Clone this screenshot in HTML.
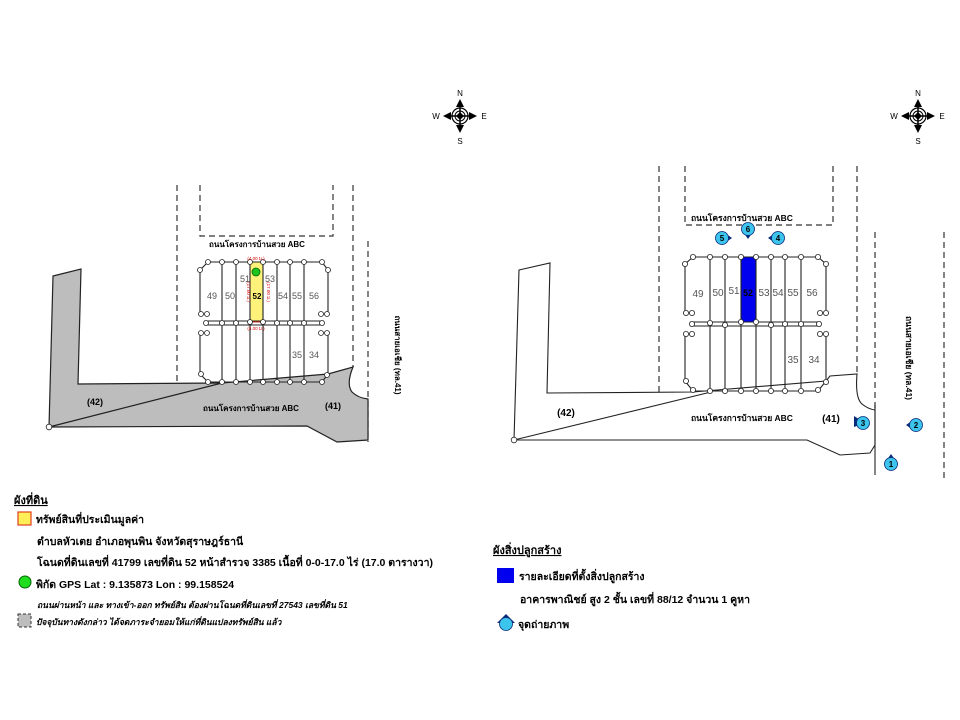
<!DOCTYPE html>
<html><head><meta charset="utf-8"><style>
html,body{margin:0;padding:0;background:#fff}
svg{display:block}
text{font-family:"Liberation Sans","Noto Sans CJK SC",sans-serif}
.b{font-weight:bold}
</style></head><body>
<svg width="960" height="720" viewBox="0 0 960 720" xmlns="http://www.w3.org/2000/svg">
<defs>
<g id="comp">
<circle cx="0" cy="0" r="8" fill="none" stroke="#000" stroke-width="1.2"/>
<circle cx="0" cy="0" r="5" fill="none" stroke="#000" stroke-width="1"/>
<line x1="-14" y1="0" x2="14" y2="0" stroke="#000" stroke-width="1.5"/>
<line x1="0" y1="-14" x2="0" y2="14" stroke="#000" stroke-width="1.5"/>
<polygon points="0,-17 -4,-9 4,-9" fill="#000"/>
<polygon points="0,17 -4,9 4,9" fill="#000"/>
<polygon points="-17,0 -9,-4 -9,4" fill="#000"/>
<polygon points="17,0 9,-4 9,4" fill="#000"/>
<polygon points="0,-4 4,0 0,4 -4,0" fill="#000"/>
<text x="0" y="-20" font-size="8" text-anchor="middle">N</text>
<text x="0" y="28" font-size="8" text-anchor="middle">S</text>
<text x="-24" y="3" font-size="8" text-anchor="middle">W</text>
<text x="24" y="3" font-size="8" text-anchor="middle">E</text>
</g>
</defs>

<use href="#comp" x="460" y="116"/>
<use href="#comp" x="918" y="116"/>

<!-- LEFT DIAGRAM -->
<g stroke="#333" stroke-width="1.2" fill="none" stroke-dasharray="6,4">
<line x1="177" y1="185" x2="177" y2="384"/>
<polyline points="200,185 200,236 333,236 333,185"/>
<line x1="353" y1="185" x2="353" y2="367"/>
<line x1="368" y1="241" x2="368" y2="442"/>
</g>
<path d="M53,276 L81,269 L78,384 L222,383 L328,374 L353,367 Q346,384 352,392 Q358,398 368,399 L368,440 L337,442 L307,426 L49,427 Z" fill="#bdbdbd" stroke="#222" stroke-width="1.2"/>
<line x1="49" y1="427" x2="222" y2="383" stroke="#222" stroke-width="1.2"/>
<circle cx="49" cy="427" r="2.8" fill="#fff" stroke="#222" stroke-width="0.8"/>
<text x="257" y="247" font-size="8" class="b" text-anchor="middle">ถนนโครงการบ้านสวย ABC</text>
<text x="95" y="405" font-size="9" class="b" text-anchor="middle">(42)</text>
<text x="333" y="409" font-size="9" class="b" text-anchor="middle">(41)</text>
<text x="251" y="411" font-size="8" class="b" text-anchor="middle">ถนนโครงการบ้านสวย ABC</text>
<text transform="translate(395,355) rotate(90)" font-size="8" class="b" text-anchor="middle">ถนนสายเอเชีย (ทล.41)</text>

<rect x="250" y="262" width="13" height="60" fill="#fff27a" stroke="#d33" stroke-width="1"/>
<g stroke="#222" stroke-width="1.1" fill="none">
<polyline points="200,313 200,270 208,262 322,262 328,270 328,313"/>
<line x1="204" y1="321" x2="324" y2="321"/><line x1="204" y1="325" x2="324" y2="325"/>
<polyline points="200,333 200,374 208,382 322,382 328,374 328,333"/>
<line x1="222" y1="262" x2="222" y2="382"/><line x1="236" y1="262" x2="236" y2="382"/>
<line x1="250" y1="262" x2="250" y2="382"/><line x1="263" y1="262" x2="263" y2="382"/>
<line x1="277" y1="262" x2="277" y2="382"/><line x1="290" y1="262" x2="290" y2="382"/>
<line x1="304" y1="262" x2="304" y2="382"/>
</g>
<g fill="#fff" stroke="#222" stroke-width="0.8">
<circle cx="208" cy="262" r="2.5"/><circle cx="222" cy="262" r="2.5"/><circle cx="236" cy="262" r="2.5"/><circle cx="250" cy="262" r="2.5"/><circle cx="263" cy="262" r="2.5"/><circle cx="277" cy="262" r="2.5"/><circle cx="290" cy="262" r="2.5"/><circle cx="304" cy="262" r="2.5"/><circle cx="322" cy="262" r="2.5"/>
<circle cx="200" cy="270" r="2.5"/><circle cx="328" cy="270" r="2.5"/>
<circle cx="201" cy="314" r="2.5"/><circle cx="207" cy="314" r="2.5"/><circle cx="321" cy="314" r="2.5"/><circle cx="327" cy="314" r="2.5"/>
<circle cx="206" cy="323" r="2.5"/><circle cx="222" cy="323" r="2.5"/><circle cx="236" cy="323" r="2.5"/><circle cx="250" cy="322" r="2.5"/><circle cx="263" cy="322" r="2.5"/><circle cx="277" cy="323" r="2.5"/><circle cx="290" cy="323" r="2.5"/><circle cx="304" cy="323" r="2.5"/><circle cx="322" cy="323" r="2.5"/>
<circle cx="201" cy="333" r="2.5"/><circle cx="207" cy="333" r="2.5"/><circle cx="321" cy="333" r="2.5"/><circle cx="327" cy="333" r="2.5"/>
<circle cx="201" cy="374" r="2.5"/><circle cx="208" cy="382" r="2.5"/><circle cx="222" cy="382" r="2.5"/><circle cx="236" cy="382" r="2.5"/><circle cx="250" cy="382" r="2.5"/><circle cx="263" cy="382" r="2.5"/><circle cx="277" cy="382" r="2.5"/><circle cx="290" cy="382" r="2.5"/><circle cx="304" cy="382" r="2.5"/><circle cx="322" cy="382" r="2.5"/><circle cx="327" cy="375" r="2.5"/>
</g>
<circle cx="256" cy="272" r="4" fill="#1ec41e" stroke="#060" stroke-width="0.8"/>
<g font-size="9" fill="#555" text-anchor="middle">
<text x="212" y="299">49</text><text x="230" y="299">50</text><text x="245" y="282">51</text>
<text x="257" y="299" fill="#000" class="b" font-size="8">52</text>
<text x="270" y="282">53</text><text x="283" y="299">54</text><text x="297" y="299">55</text><text x="314" y="299">56</text>
<text x="297" y="358">35</text><text x="314" y="358">34</text>
</g>
<g font-size="4.5" fill="#d00" text-anchor="middle">
<text x="256" y="260">(4.00 ม.)</text><text x="256" y="330">(4.00 ม.)</text>
<text transform="translate(247,292) rotate(90)">(17.00 ม.)</text>
<text transform="translate(267,292) rotate(90)">(17.00 ม.)</text>
</g>

<!-- LEFT LEGEND -->
<text x="14" y="504" font-size="11" class="b" text-decoration="underline">ผังที่ดิน</text>
<rect x="18" y="512" width="13" height="13" fill="#ffee55" stroke="#e04020" stroke-width="1.2"/>
<text x="36" y="523" font-size="10.5" class="b">ทรัพย์สินที่ประเมินมูลค่า</text>
<text x="37" y="545" font-size="10.5" class="b">ตำบลหัวเตย อำเภอพุนพิน จังหวัดสุราษฎร์ธานี</text>
<text x="37" y="566" font-size="10.5" class="b">โฉนดที่ดินเลขที่  41799  เลขที่ดิน  52  หน้าสำรวจ 3385 เนื้อที่ 0-0-17.0 ไร่ (17.0 ตารางวา)</text>
<circle cx="25" cy="582" r="6" fill="#20dd20" stroke="#060" stroke-width="1"/>
<text x="36" y="588" font-size="10.5" class="b">พิกัด GPS  Lat : 9.135873  Lon : 99.158524</text>
<text x="37" y="608" font-size="8.5" class="b" font-style="italic">ถนนผ่านหน้า และ ทางเข้า-ออก ทรัพย์สิน ต้องผ่านโฉนดที่ดินเลขที่ 27543 เลขที่ดิน 51</text>
<rect x="18" y="614" width="13" height="13" fill="#bdbdbd" stroke="#333" stroke-width="1" stroke-dasharray="3,2"/>
<text x="36" y="625" font-size="8.5" class="b" font-style="italic">ปัจจุบันทางดังกล่าว ได้จดภาระจำยอมให้แก่ที่ดินแปลงทรัพย์สิน แล้ว</text>

<!-- RIGHT DIAGRAM -->
<g stroke="#333" stroke-width="1.2" fill="none" stroke-dasharray="6,4">
<line x1="659" y1="166" x2="659" y2="392"/>
<polyline points="685,166 685,225 833,225 833,166"/>
<line x1="857" y1="166" x2="857" y2="373"/>
<line x1="875" y1="232" x2="875" y2="410"/>
<line x1="944" y1="232" x2="944" y2="482"/>
</g>
<path d="M519,270 L550,263 L547,393 L693,392 L826,381 L830,376 L857,374 Q855,398 862,404 Q868,409 875,410 L875,445 L870,453 L840,455 L807,440 L514,440 Z" fill="#fff" stroke="#222" stroke-width="1.1"/>
<line x1="875" y1="405" x2="875" y2="475" stroke="#222" stroke-width="1.1"/>
<line x1="514" y1="440" x2="711" y2="392" stroke="#222" stroke-width="1.1"/>
<circle cx="514" cy="440" r="2.8" fill="#fff" stroke="#222" stroke-width="0.8"/>
<text x="742" y="221" font-size="8.5" class="b" text-anchor="middle">ถนนโครงการบ้านสวย ABC</text>
<text x="566" y="416" font-size="10" class="b" text-anchor="middle">(42)</text>
<text x="831" y="422" font-size="10" class="b" text-anchor="middle">(41)</text>
<text x="742" y="421" font-size="8.5" class="b" text-anchor="middle">ถนนโครงการบ้านสวย ABC</text>
<text transform="translate(906,358) rotate(90)" font-size="8.5" class="b" text-anchor="middle">ถนนสายเอเชีย (ทล.41)</text>

<rect x="741" y="257" width="15" height="65" fill="#0000ee" stroke="#e22" stroke-width="1"/>
<g stroke="#222" stroke-width="1.1" fill="none">
<polyline points="685,313 685,264 693,257 818,257 826,264 826,313"/>
<line x1="690" y1="322" x2="821" y2="322"/><line x1="690" y1="326" x2="821" y2="326"/>
<polyline points="685,334 685,381 693,391 818,391 826,381 826,334"/>
<line x1="710" y1="257" x2="710" y2="391"/><line x1="725" y1="257" x2="725" y2="391"/>
<line x1="741" y1="257" x2="741" y2="391"/><line x1="756" y1="257" x2="756" y2="391"/>
<line x1="771" y1="257" x2="771" y2="391"/><line x1="785" y1="257" x2="785" y2="391"/>
<line x1="801" y1="257" x2="801" y2="391"/>
</g>
<g fill="#fff" stroke="#222" stroke-width="0.8">
<circle cx="693" cy="257" r="2.6"/><circle cx="710" cy="257" r="2.6"/><circle cx="725" cy="257" r="2.6"/><circle cx="741" cy="257" r="2.6"/><circle cx="756" cy="257" r="2.6"/><circle cx="771" cy="257" r="2.6"/><circle cx="785" cy="257" r="2.6"/><circle cx="801" cy="257" r="2.6"/><circle cx="818" cy="257" r="2.6"/>
<circle cx="685" cy="264" r="2.6"/><circle cx="826" cy="264" r="2.6"/>
<circle cx="686" cy="313" r="2.6"/><circle cx="692" cy="313" r="2.6"/><circle cx="820" cy="313" r="2.6"/><circle cx="826" cy="313" r="2.6"/>
<circle cx="692" cy="324" r="2.6"/><circle cx="710" cy="323" r="2.6"/><circle cx="725" cy="325" r="2.6"/><circle cx="741" cy="322" r="2.6"/><circle cx="756" cy="322" r="2.6"/><circle cx="771" cy="325" r="2.6"/><circle cx="785" cy="324" r="2.6"/><circle cx="801" cy="324" r="2.6"/><circle cx="819" cy="324" r="2.6"/>
<circle cx="686" cy="334" r="2.6"/><circle cx="692" cy="334" r="2.6"/><circle cx="820" cy="334" r="2.6"/><circle cx="826" cy="334" r="2.6"/>
<circle cx="686" cy="381" r="2.6"/><circle cx="693" cy="390" r="2.6"/><circle cx="710" cy="391" r="2.6"/><circle cx="725" cy="391" r="2.6"/><circle cx="741" cy="391" r="2.6"/><circle cx="756" cy="391" r="2.6"/><circle cx="771" cy="391" r="2.6"/><circle cx="785" cy="391" r="2.6"/><circle cx="801" cy="391" r="2.6"/><circle cx="818" cy="390" r="2.6"/><circle cx="826" cy="382" r="2.6"/>
</g>
<g font-size="10" fill="#555" text-anchor="middle">
<text x="698" y="297">49</text><text x="718" y="296">50</text><text x="734" y="294">51</text>
<text x="748" y="296" fill="#000" font-size="9" class="b">52</text>
<text x="764" y="296">53</text><text x="778" y="296">54</text><text x="793" y="296">55</text><text x="812" y="296">56</text>
<text x="793" y="363">35</text><text x="814" y="363">34</text>
</g>

<!-- camera markers -->
<g font-size="8" class="b" text-anchor="middle">
<g transform="translate(722,238)"><polygon points="0,-7 10,0 0,7 -4,0" fill="#0a2a7a"/><circle r="6.5" fill="#3cc4ec" stroke="#0a2a7a" stroke-width="0.8"/><text y="3">5</text></g>
<g transform="translate(748,229)"><polygon points="-7,0 0,10 7,0 0,-4" fill="#0a2a7a"/><circle r="6.5" fill="#3cc4ec" stroke="#0a2a7a" stroke-width="0.8"/><text y="3">6</text></g>
<g transform="translate(778,238)"><polygon points="0,-7 -10,0 0,7 4,0" fill="#0a2a7a"/><circle r="6.5" fill="#3cc4ec" stroke="#0a2a7a" stroke-width="0.8"/><text y="3">4</text></g>
<g transform="translate(863,423)"><polygon points="-9,-7 -9,4 2,0" fill="#0a2a7a"/><circle r="6.5" fill="#3cc4ec" stroke="#0a2a7a" stroke-width="0.8"/><text y="3">3</text></g>
<g transform="translate(916,425)"><polygon points="0,-7 -10,0 0,7 4,0" fill="#0a2a7a"/><circle r="6.5" fill="#3cc4ec" stroke="#0a2a7a" stroke-width="0.8"/><text y="3">2</text></g>
<g transform="translate(891,464)"><polygon points="-7,0 0,-10 7,0 0,4" fill="#0a2a7a"/><circle r="6.5" fill="#3cc4ec" stroke="#0a2a7a" stroke-width="0.8"/><text y="3">1</text></g>
</g>

<!-- RIGHT LEGEND -->
<text x="493" y="554" font-size="11" class="b" text-decoration="underline">ผังสิ่งปลูกสร้าง</text>
<rect x="497" y="568" width="17" height="15" fill="#0000ee"/>
<text x="519" y="580" font-size="10.5" class="b">รายละเอียดที่ตั้งสิ่งปลูกสร้าง</text>
<text x="520" y="603" font-size="10.5" class="b">อาคารพาณิชย์ สูง 2 ชั้น เลขที่ 88/12 จำนวน 1 คูหา</text>
<polygon points="497,623 506,614 515,623" fill="#0a2a7a"/>
<circle cx="506" cy="624" r="6.5" fill="#3cc4ec" stroke="#0a2a7a" stroke-width="0.8"/>
<text x="518" y="628" font-size="10.5" class="b">จุดถ่ายภาพ</text>
</svg>
</body></html>
